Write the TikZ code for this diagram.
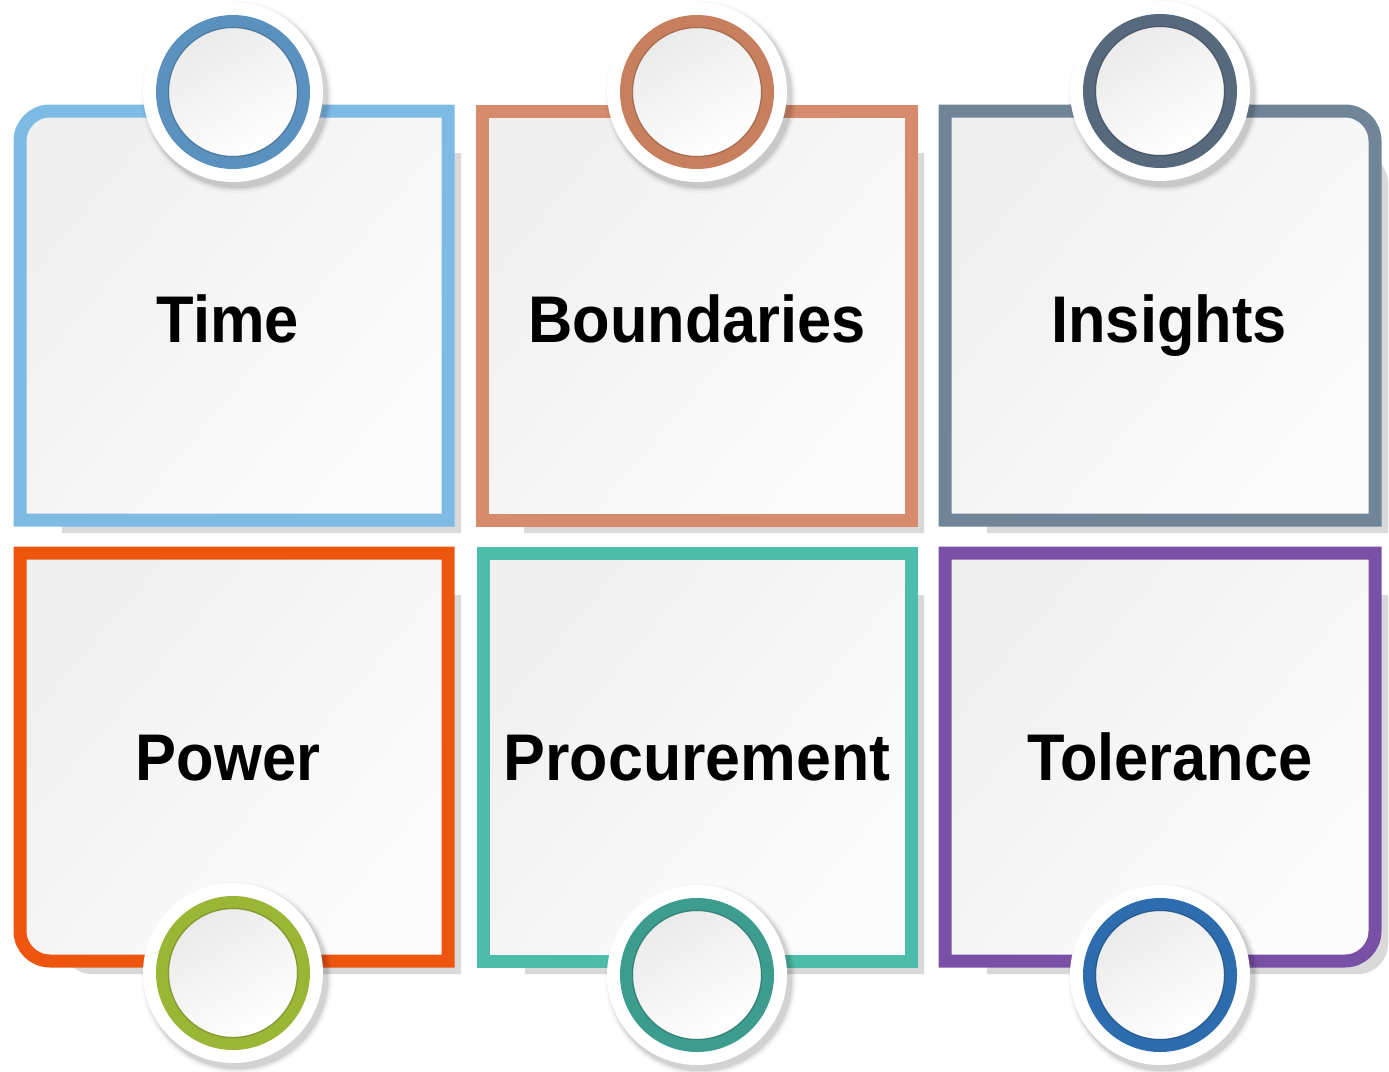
\documentclass[tikz,border=0pt]{standalone}
\usepackage{fontspec}
\setmainfont{Liberation Sans}
\usepackage{graphicx}
\definecolor{cboxa}{HTML}{7DBBE5}
\definecolor{cringa}{HTML}{5A91BE}
\definecolor{cboxb}{HTML}{D58B6C}
\definecolor{cringb}{HTML}{C77F5E}
\definecolor{cboxc}{HTML}{718598}
\definecolor{cringc}{HTML}{56697D}
\definecolor{cboxd}{HTML}{EE5610}
\definecolor{cringd}{HTML}{9BB535}
\definecolor{cboxe}{HTML}{4CBDAA}
\definecolor{cringe}{HTML}{3C9C8D}
\definecolor{cboxf}{HTML}{7A50A6}
\definecolor{cringf}{HTML}{2D6CAF}
\definecolor{shadowgray}{HTML}{D9D9D9}
\tikzset{
  lbl/.style={font=\bfseries\fontsize{66}{70}\selectfont, anchor=base, text=black},
  rc/.style={rounded corners=30pt},
  sc/.style={sharp corners}
}
% #1 colour, #2 x0, #3 y0, #4 x1, #5 y1, #6 TL, #7 TR, #8 BR, #9 BL
\newcommand\panelbox[9]{%
  \fill[shadowgray] ({(#2+#4)/2},{#3+42})
     {[#7] -- ({#4+13},{#3+42}) -- ({#4+13},{(#3+#5)/2})}
     {[#8] -- ({#4+13},{#5+13}) -- ({(#2+#4)/2},{#5+13})}
     {[#9] -- ({#2+42},{#5+13}) -- ({#2+42},{(#3+#5)/2})}
     {[#6] -- ({#2+42},{#3+42}) -- cycle};
  \draw[line width=13pt, draw=#1, top color=black!6, bottom color=black!1, shading angle=50]
     ({(#2+#4)/2},#3)
     {[#7] -- (#4,#3) -- (#4,{(#3+#5)/2})}
     {[#8] -- (#4,#5) -- ({(#2+#4)/2},#5)}
     {[#9] -- (#2,#5) -- (#2,{(#3+#5)/2})}
     {[#6] -- (#2,#3) -- cycle};
}
% #1 x, #2 y, #3 ring colour
\newcommand\badge[3]{%
  \foreach \rr/\oo in {96/0.025,94/0.04,92.5/0.05,91.2/0.07}
    \fill[black, opacity=\oo] ({#1+4},{#2+5}) circle (\rr);
  \fill[white] (#1,#2) circle (90);
  \shade[top color=black!8, bottom color=white, shading angle=30] (#1,#2) circle (65);
  \draw[#3, line width=13pt] (#1,#2) circle (70.5);
  \draw[black, opacity=0.15, line width=1.5pt] (#1,#2) circle (64.5);
}
\begin{document}
\begin{tikzpicture}[x=1pt, y=-1pt]
\useasboundingbox (0,0) rectangle (1389,1071);
\fill[white] (0,0) rectangle (1389,1071);

\panelbox{cboxa}{20}{111}{448}{520}{rc}{sc}{sc}{sc}
\panelbox{cboxb}{482}{111}{911}{520}{sc}{sc}{sc}{sc}
\panelbox{cboxc}{945}{111}{1375}{520}{sc}{rc}{sc}{sc}
\panelbox{cboxd}{20}{553}{448}{961}{sc}{sc}{sc}{rc}
\panelbox{cboxe}{483}{553}{911}{961}{sc}{sc}{sc}{sc}
\panelbox{cboxf}{945}{553}{1375}{961}{sc}{sc}{rc}{sc}

\badge{233}{92}{cringa}
\badge{697}{92}{cringb}
\badge{1160}{91}{cringc}
\badge{233}{973}{cringd}
\badge{697}{975}{cringe}
\badge{1160}{975}{cringf}

\node[lbl] (time) at (228,342) {\scalebox{0.93}[1]{Time}};
\node[lbl] (bound) at (697,342) {\scalebox{0.93}[1]{Boundaries}};
\node[lbl] (insig) at (1169,342) {\scalebox{0.93}[1]{Insights}};
\node[lbl] (power) at (228,780) {\scalebox{0.93}[1]{Power}};
\node[lbl] (procu) at (697,780) {\scalebox{0.95}[1]{Procurement}};
\node[lbl] (toler) at (1170,780) {\scalebox{0.93}[1]{Tolerance}};
\end{tikzpicture}
\end{document}
